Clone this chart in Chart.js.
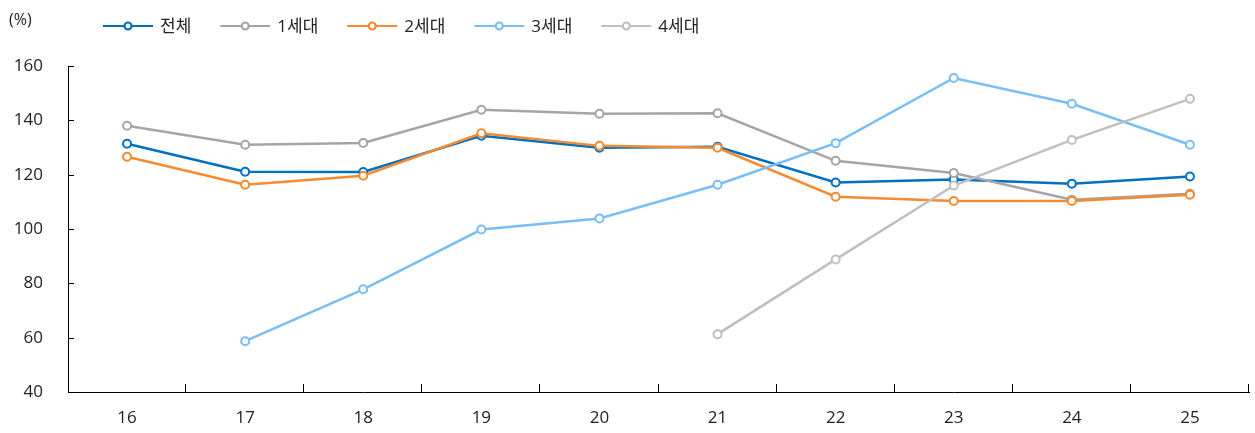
<!DOCTYPE html>
<html>
<head>
<meta charset="utf-8">
<script src="https://cdn.jsdelivr.net/npm/chart.js@4/dist/chart.umd.min.js"></script>
<style>
  html, body { margin: 0; padding: 0; background: #fff; }
  #wrap { width: 1255px; height: 433px; }
</style>
</head>
<body>
<div id="wrap"><canvas id="chart"></canvas></div>
<script>
var FONT = "'Open Sans', 'Noto Sans CJK KR', sans-serif";

// data
var years = ['16', '17', '18', '19', '20', '21', '22', '23', '24', '25'];
var seriesNames = ['전체', '1세대', '2세대', '3세대', '4세대'];
var total = [131.4, 121.1, 121.0, 134.3, 129.9, 130.3, 117.1, 118.2, 116.7, 119.3];
var gen1 = [138.0, 131.0, 131.7, 143.9, 142.4, 142.6, 125.1, 120.6, 110.8, 113.0];
var gen2 = [126.6, 116.3, 119.6, 135.2, 130.6, 129.9, 111.9, 110.3, 110.3, 112.6];
var gen3 = [null, 58.7, 77.8, 99.8, 103.9, 116.3, 131.6, 155.6, 146.1, 131.0];
var gen4 = [null, null, null, null, null, 61.3, 88.8, 116.0, 132.8, 147.9];
var yTicks = { min: 40, max: 160, step: 20 };

var colors = ['#0070C0', '#A5A5A5', '#F58A31', '#79BEF5', '#BFBFBF'];

function makeSet(i, values) {
    return {
        label: seriesNames[i],
        data: values,
        borderColor: colors[i],
        backgroundColor: '#fff',
        pointBackgroundColor: '#fff',
        pointBorderColor: colors[i],
        pointBorderWidth: 2,
        pointRadius: 4,
        borderWidth: 2.5,
        tension: 0,
        order: 5 - i
    };
}

// legend: line with a small hollow circle, drawn on the canvas
var lineLegend = {
    id: 'lineLegend',
    afterDraw(chart) {
        var ctx = chart.ctx;
        ctx.save();
        ctx.textBaseline = 'middle';
        ctx.fillStyle = '#222';
        ctx.font = '16px ' + FONT;
        ctx.fillText('(%)', 9, 20);
        ctx.font = '17px ' + FONT;
        var x = 103, y = 26;
        chart.data.datasets.forEach(function (ds) {
            ctx.strokeStyle = ds.borderColor;
            ctx.lineWidth = 2.2;
            ctx.beginPath();
            ctx.moveTo(x, y);
            ctx.lineTo(x + 50, y);
            ctx.stroke();
            ctx.beginPath();
            ctx.arc(x + 25, y, 3.5, 0, Math.PI * 2);
            ctx.fillStyle = '#fff';
            ctx.fill();
            ctx.stroke();
            ctx.fillStyle = '#222';
            ctx.fillText(ds.label, x + 57, y + 1);
            x += 57 + ctx.measureText(ds.label).width + 29;
        });
        ctx.restore();
    }
};

// tick marks pointing into the plot
var innerTicks = {
    id: 'innerTicks',
    afterDraw(chart) {
        var ctx = chart.ctx, area = chart.chartArea;
        var xs = chart.scales.x, ys = chart.scales.y;
        ctx.save();
        ctx.strokeStyle = '#000';
        ctx.lineWidth = 1;
        ctx.beginPath();
        ys.ticks.forEach(function (t, i) {
            var py = Math.round(ys.getPixelForTick(i)) + 0.5;
            ctx.moveTo(area.left, py);
            ctx.lineTo(area.left + 6, py);
        });
        var step = xs.getPixelForValue(1) - xs.getPixelForValue(0);
        for (var i = 0; i < years.length; i++) {
            var px = Math.round(xs.getPixelForValue(i) + step / 2) - 0.5;
            ctx.moveTo(px, area.bottom);
            ctx.lineTo(px, area.bottom - 8);
        }
        ctx.stroke();
        ctx.restore();
    }
};

var myChart = new Chart(document.getElementById('chart'), {
    type: 'line',
    data: {
        labels: years,
        datasets: [
            makeSet(0, total),
            makeSet(1, gen1),
            makeSet(2, gen2),
            makeSet(3, gen3),
            makeSet(4, gen4)
        ]
    },
    options: {
        responsive: true,
        maintainAspectRatio: false,
        animation: false,
        layout: { padding: { top: 66, left: 0, right: 3, bottom: 0 } },
        plugins: {
            legend: { display: false },
            tooltip: { enabled: false }
        },
        scales: {
            x: {
                offset: true,
                afterFit: function (scale) { scale.height = 41; },
                grid: { display: false, drawTicks: false },
                border: { display: true, color: '#000', width: 1 },
                ticks: { color: '#222', font: { family: FONT, size: 17 }, padding: 16 }
            },
            y: {
                min: yTicks.min,
                max: yTicks.max,
                afterFit: function (scale) { scale.width = 68; },
                grid: { display: false, drawTicks: false },
                border: { display: true, color: '#000', width: 1 },
                ticks: { stepSize: yTicks.step, color: '#222', font: { family: FONT, size: 17 }, padding: 25 }
            }
        }
    },
    plugins: [lineLegend, innerTicks]
});
</script>
</body>
</html>
